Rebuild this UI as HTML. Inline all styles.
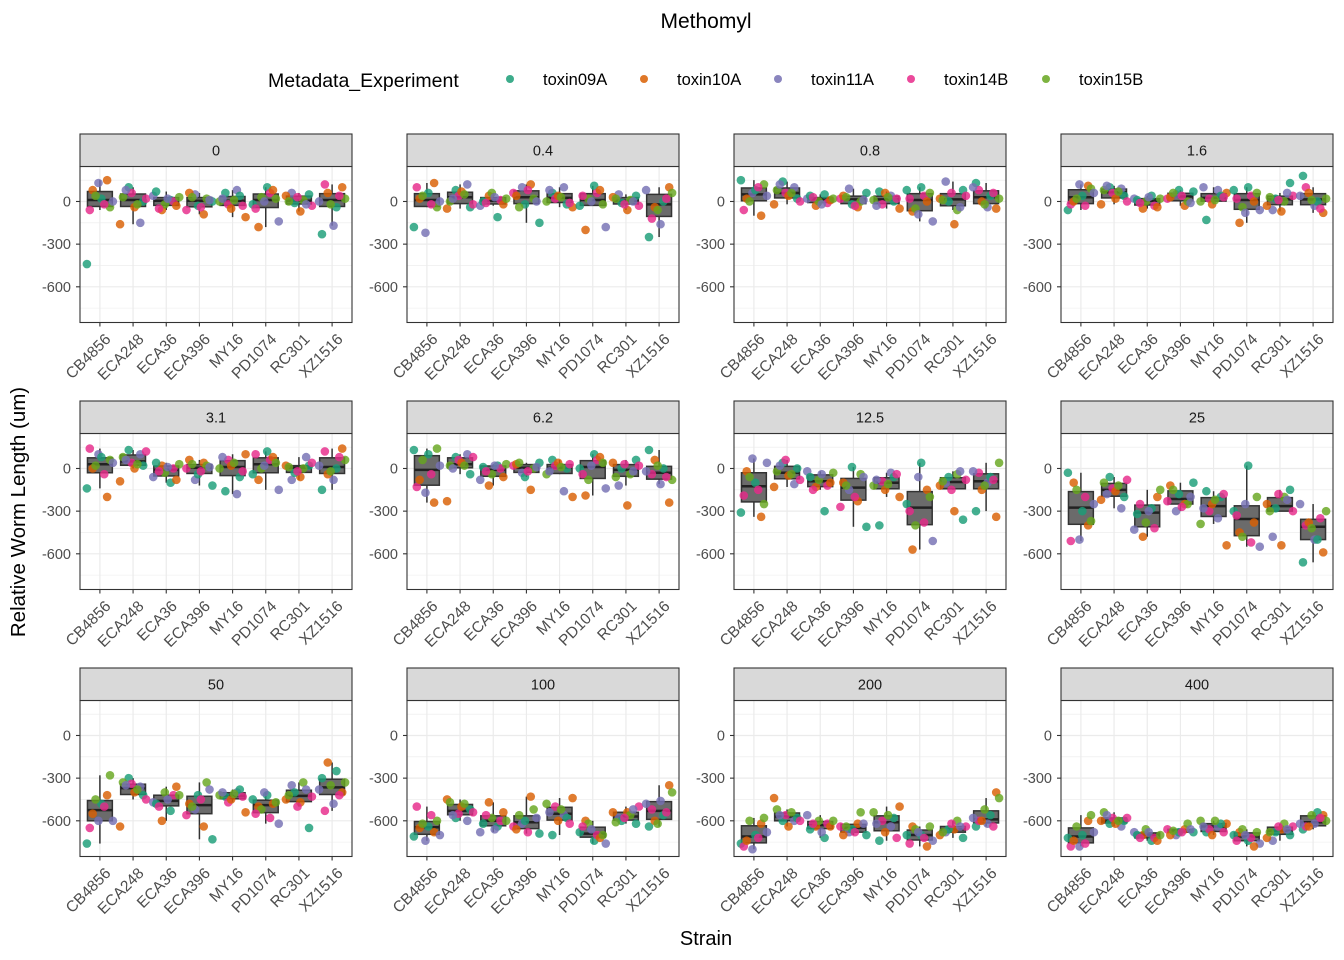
<!DOCTYPE html>
<html><head><meta charset="utf-8"><style>
html,body{margin:0;padding:0;background:#fff;}
svg{display:block;font-family:"Liberation Sans",Arial,sans-serif;}
</style></head><body>
<svg id="chart" width="1344" height="960" viewBox="0 0 1344 960" xmlns="http://www.w3.org/2000/svg">
<text x="706" y="28" text-anchor="middle" font-size="21" fill="#000">Methomyl</text>
<text x="268" y="87" font-size="19.5" fill="#000">Metadata_Experiment</text>
<g id="legend"></g>
<text transform="translate(25,512) rotate(-90)" text-anchor="middle" font-size="20.5" fill="#000">Relative Worm Length (um)</text>
<text x="706" y="945" text-anchor="middle" font-size="20" fill="#000">Strain</text>
<g id="panels"></g>
</svg>
<script>
const strains = ["CB4856","ECA248","ECA36","ECA396","MY16","PD1074","RC301","XZ1516"];
const concentrations = ["0","0.4","0.8","1.6","3.1","6.2","12.5","25","50","100","200","400"];
const experiments = ["toxin09A","toxin10A","toxin11A","toxin14B","toxin15B"];
const expColors = ["#1B9E77","#D95F02","#7570B3","#E7298A","#66A61E"];
const yTicks = [0,-300,-600];
const yMinor = [150,-150,-450,-750];
const yDomain = [246,-851];
// values[panel][strain] = 10 measurements, experiment = index % 5
const values = [
[[-440,150,130,-60,-40,20,80,0,-20,40],[100,-160,-150,60,30,0,-40,80,20,-20],[10,-60,40,0,-20,70,-30,20,-50,30],[0,-90,50,-60,20,-30,60,10,-40,30],[60,-110,80,-20,0,40,-50,20,-30,10],[100,-180,-140,60,30,-20,80,0,-50,20],[50,-70,60,-30,10,-10,40,-20,30,0],[-230,100,-170,120,20,-40,60,0,40,-20]],
[[-180,130,-220,100,-40,60,20,0,-20,40],[80,-50,120,40,0,-40,70,20,-20,50],[-110,40,-30,10,60,0,-20,30,-10,20],[-150,120,100,60,20,-20,40,0,80,-40],[60,-40,100,20,0,-20,40,80,-10,30],[110,-200,-180,60,20,-30,80,0,40,-20],[40,-60,50,-30,10,-10,30,0,-20,20],[-250,100,-160,-120,60,0,-40,80,20,-60]],
[[150,-100,60,-60,120,80,20,40,100,0],[140,-20,100,60,80,20,40,120,0,60],[50,-30,20,-10,0,40,10,-20,30,20],[60,-40,90,20,0,-20,40,10,-30,30],[70,-50,40,-20,10,0,60,-30,20,30],[100,-70,-140,40,-50,80,0,-90,20,60],[80,-160,140,40,-60,0,20,-40,60,10],[130,-50,-40,80,20,40,0,100,60,-20]],
[[-60,110,120,-20,90,40,0,60,-30,20],[100,-20,90,60,80,40,20,110,0,70],[40,-50,20,-30,0,10,-40,30,-10,20],[70,-30,50,20,0,80,30,-10,40,60],[-130,60,80,20,0,40,-20,100,30,10],[100,-150,-60,40,-40,80,0,-80,20,60],[130,-70,-60,40,0,20,-30,60,10,30],[180,-80,-30,100,20,0,60,40,-50,10]],
[[-140,-200,100,140,60,80,0,40,-40,20],[130,-90,100,40,80,20,0,60,120,30],[-100,20,-60,0,-30,40,-80,10,-20,30],[-120,40,-80,0,20,-40,60,10,-20,30],[-160,100,-180,60,0,-60,20,80,-20,40],[120,-80,-150,60,0,-40,80,20,100,40],[20,-60,-80,40,0,-30,20,80,-20,10],[-150,140,-80,120,60,0,-40,20,80,-20]],
[[130,-240,-170,-130,140,100,-80,20,-40,60],[80,-230,100,60,20,-40,40,0,80,20],[20,-120,-80,0,-40,10,-60,20,-20,30],[40,-150,-30,20,0,-60,30,10,-20,40],[60,-200,-160,20,-40,0,40,-20,30,10],[100,-190,-140,60,-80,0,80,20,-40,40],[60,-260,-120,20,-40,0,40,-20,30,-60],[130,-240,-110,-40,-80,0,60,-20,-60,20]],
[[-310,-340,70,-190,-250,-100,-20,40,-150,-60],[40,-130,-110,60,-20,0,-50,20,-80,-40],[-300,-130,-20,-120,-80,-60,-100,-40,-150,-30],[-410,-230,-150,-270,-40,10,-100,-60,-200,-120],[-400,-200,-30,-90,-120,-60,-150,-80,-40,-110],[40,-570,-510,-380,-400,-250,-150,-60,-300,-200],[-360,-300,-100,-80,-40,-60,-120,-20,-150,-90],[-300,-340,-100,-30,40,-60,-150,-20,-80,-120]],
[[-30,-400,-500,-510,-370,-300,-100,-250,-200,-150],[-60,-220,-280,-140,-100,-200,-160,-180,-80,-120],[-280,-480,-430,-420,-380,-320,-200,-300,-250,-150],[-100,-250,-300,-230,-250,-180,-120,-200,-270,-150],[-160,-540,-350,-300,-390,-200,-250,-280,-180,-220],[20,-450,-550,-520,-480,-300,-380,-250,-330,-200],[-150,-540,-480,-300,-200,-280,-250,-220,-180,-300],[-660,-590,-500,-400,-300,-500,-380,-250,-350,-420]],
[[-760,-420,-600,-650,-280,-480,-550,-600,-500,-450],[-300,-640,-360,-340,-330,-420,-400,-350,-450,-380],[-530,-600,-470,-420,-400,-480,-360,-450,-500,-420],[-730,-640,-520,-560,-330,-420,-480,-380,-450,-500],[-430,-540,-400,-470,-420,-380,-450,-400,-430,-410],[-420,-500,-620,-580,-520,-450,-480,-400,-550,-470],[-650,-470,-350,-430,-330,-400,-450,-380,-500,-420],[-300,-400,-480,-530,-330,-250,-190,-380,-420,-350]],
[[-710,-680,-740,-500,-600,-640,-650,-700,-560,-620],[-580,-450,-600,-550,-470,-520,-500,-560,-540,-480],[-640,-470,-680,-600,-580,-620,-540,-660,-560,-600],[-690,-430,-620,-640,-520,-600,-660,-580,-680,-560],[-700,-440,-560,-500,-480,-580,-600,-540,-620,-520],[-740,-600,-760,-700,-620,-680,-720,-660,-640,-700],[-620,-540,-580,-500,-560,-600,-540,-520,-580,-610],[-640,-350,-460,-520,-400,-560,-600,-480,-540,-620]],
[[-760,-620,-800,-780,-580,-700,-740,-680,-720,-600],[-600,-440,-600,-560,-520,-580,-640,-560,-600,-540],[-720,-640,-560,-620,-600,-660,-640,-680,-620,-600],[-700,-620,-680,-640,-540,-660,-700,-620,-680,-640],[-740,-500,-640,-600,-540,-580,-680,-620,-720,-560],[-700,-640,-740,-720,-660,-700,-780,-680,-760,-640],[-720,-660,-680,-640,-600,-660,-700,-640,-620,-680],[-640,-400,-620,-600,-440,-560,-600,-580,-640,-520]],
[[-720,-600,-780,-780,-560,-700,-740,-680,-760,-640],[-620,-600,-640,-580,-540,-600,-620,-560,-580,-600],[-740,-700,-680,-720,-660,-700,-740,-680,-720,-700],[-680,-660,-700,-660,-620,-680,-700,-660,-680,-670],[-680,-620,-640,-660,-600,-620,-700,-640,-680,-600],[-740,-680,-760,-720,-660,-700,-780,-700,-740,-680],[-700,-660,-740,-640,-620,-680,-720,-660,-640,-680],[-660,-560,-620,-640,-600,-540,-640,-620,-580,-560]]
];
const NS="http://www.w3.org/2000/svg";
function mk(tag,attrs,parent){const e=document.createElementNS(NS,tag);for(const k in attrs)e.setAttribute(k,attrs[k]);parent.appendChild(e);return e;}
const leg=document.getElementById('legend');
const legX=[510,644,778,911,1046];
experiments.forEach((ex,i)=>{
  const g=mk('g',{},leg);
  
  
  mk('circle',{cx:legX[i],cy:79,r:4,fill:expColors[i],'fill-opacity':0.85},g);
  const t=mk('text',{x:legX[i]+33,y:85,'font-size':16.5,fill:'#000'},g);t.textContent=ex;
});
function quant(s,p){const i=(s.length-1)*p,lo=Math.floor(i),hi=Math.ceil(i);return s[lo]+(s[hi]-s[lo])*(i-lo);}
const cols=[80,407,734,1061], rows=[134,401,668];
const PW=272, SH=32.5, PH=156;
const root=document.getElementById('panels');
concentrations.forEach((c,pi)=>{
  const L=cols[pi%4], ST=rows[Math.floor(pi/4)], T=ST+SH, B=T+PH, R=L+PW;
  const y=v=>T+(yDomain[0]-v)/(yDomain[0]-yDomain[1])*PH;
  const step=PW/8.2;
  const x=i=>L+(0.6+i)*step;
  const g=mk('g',{},root);
  
  
  mk('rect',{x:L,y:T,width:PW,height:PH,fill:'#fff'},g);
  yMinor.forEach(v=>mk('line',{x1:L,x2:R,y1:y(v),y2:y(v),stroke:'#ebebeb','stroke-width':0.6},g));
  yTicks.forEach(v=>mk('line',{x1:L,x2:R,y1:y(v),y2:y(v),stroke:'#ebebeb','stroke-width':1.2},g));
  strains.forEach((s,si)=>mk('line',{x1:x(si),x2:x(si),y1:T,y2:B,stroke:'#ebebeb','stroke-width':1.2},g));
  strains.forEach((s,si)=>{
    const vals=values[pi][si], so=[...vals].sort((a,b)=>a-b);
    const q1=quant(so,0.25),md=quant(so,0.5),q3=quant(so,0.75),iqr=q3-q1;
    const lo=Math.min(...so.filter(v=>v>=q1-1.5*iqr)),hi=Math.max(...so.filter(v=>v<=q3+1.5*iqr));
    const bw=step*0.75, cx=x(si);
    const bg=mk('g',{},g);
    
    
    mk('line',{x1:cx,x2:cx,y1:y(hi),y2:y(q3),stroke:'#333','stroke-width':1.5},bg);
    mk('line',{x1:cx,x2:cx,y1:y(q1),y2:y(lo),stroke:'#333','stroke-width':1.5},bg);
    mk('rect',{x:cx-bw/2,y:y(q3),width:bw,height:Math.max(1,y(q1)-y(q3)),fill:'#6b6b6b',stroke:'#333','stroke-width':1.5},bg);
    mk('line',{x1:cx-bw/2,x2:cx+bw/2,y1:y(md),y2:y(md),stroke:'#222','stroke-width':2.5},bg);
  });
  strains.forEach((s,si)=>{
    values[pi][si].forEach((v,k)=>{
      const jit=(((k*7+si*3)%10)-4.5)/4.5*13;
      const p=mk('circle',{cx:x(si)+jit,cy:y(v),r:4.3,fill:expColors[k%5],'fill-opacity':0.82},g);
      
      
    });
  });
  mk('rect',{x:L,y:T,width:PW,height:PH,fill:'none',stroke:'#333','stroke-width':1.1},g);
  const st=mk('rect',{x:L,y:ST,width:PW,height:SH,fill:'#d9d9d9',stroke:'#333','stroke-width':1.1},g);
  
  
  const stt=mk('text',{x:L+PW/2,y:ST+SH/2+5,'text-anchor':'middle','font-size':14.5,fill:'#1a1a1a'},g);stt.textContent=c;
  yTicks.forEach(v=>{
    mk('line',{x1:L-4,x2:L,y1:y(v),y2:y(v),stroke:'#333','stroke-width':1.1},g);
    const t=mk('text',{x:L-9,y:y(v)+5,'text-anchor':'end','font-size':14.5,fill:'#4d4d4d'},g);t.textContent=v;
  });
  strains.forEach((s,si)=>{
    mk('line',{x1:x(si),x2:x(si),y1:B,y2:B+4,stroke:'#333','stroke-width':1.1},g);
    const t=mk('text',{transform:`translate(${x(si)+4},${B+10}) rotate(-45)`,'text-anchor':'end','font-size':15.5,fill:'#4d4d4d',dy:'0.7em'},g);
    t.textContent=s;
  });
});
</script>
</body></html>
